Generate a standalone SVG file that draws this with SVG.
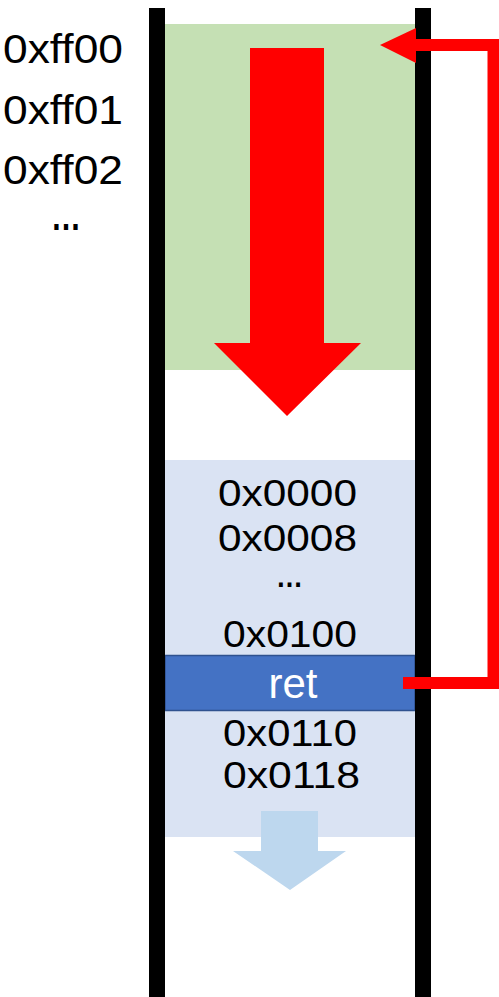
<svg xmlns="http://www.w3.org/2000/svg" width="499" height="997" viewBox="0 0 499 997">
<style>
.lbl{font-family:"Liberation Sans",Arial,sans-serif;fill:#000}
.big{font-size:40px}
.mid{font-size:37px}
.dots{font-weight:bold}
.bar{fill:#000}
</style>
<rect width="499" height="997" fill="#fff"/>
<g id="heap-region">
<rect x="165" y="24" width="250" height="346" fill="#c5e0b4"/>
</g>
<g id="heap-arrow">
<polygon points="250,48 324,48 324,343 361,343 287,416 214,343 250,343" fill="#ff0000"/>
</g>
<g id="stack-region">
<rect x="165" y="460" width="250" height="377" fill="#dae3f3"/>
</g>
<g id="stack-arrow">
<polygon points="261,811 318,811 318,851 346,851 290,890 233,851 261,851" fill="#bdd7ee"/>
</g>
<g id="ret-cell">
<rect x="165" y="655.5" width="250" height="55" fill="#4472c4" stroke="#2f528f" stroke-width="1.5"/>
<text x="293" y="698" text-anchor="middle" font-family="Liberation Sans,Arial,sans-serif" font-size="42" fill="#fff">ret</text>
</g>
<g id="bars">
<rect class="bar" x="149" y="8" width="16" height="989"/>
<rect class="bar" x="415" y="8" width="16" height="989"/>
</g>
<g id="left-labels">
<text class="lbl big" x="3" y="63" textLength="120" lengthAdjust="spacingAndGlyphs">0xff00</text>
<text class="lbl big" x="3" y="123.5" textLength="120" lengthAdjust="spacingAndGlyphs">0xff01</text>
<text class="lbl big" x="3" y="184" textLength="120" lengthAdjust="spacingAndGlyphs">0xff02</text>
<text class="lbl big dots" x="51" y="230" textLength="30" lengthAdjust="spacingAndGlyphs">…</text>
</g>
<g id="stack-labels">
<text class="lbl mid" x="218" y="506" textLength="139" lengthAdjust="spacingAndGlyphs">0x0000</text>
<text class="lbl mid" x="218" y="551" textLength="139" lengthAdjust="spacingAndGlyphs">0x0008</text>
<text class="lbl dots" font-size="30" x="276" y="587" textLength="27" lengthAdjust="spacingAndGlyphs">…</text>
<text class="lbl mid" x="223" y="647" textLength="134" lengthAdjust="spacingAndGlyphs">0x0100</text>
<text class="lbl mid" x="223" y="746" textLength="134" lengthAdjust="spacingAndGlyphs">0x0110</text>
<text class="lbl mid" x="223" y="788" textLength="137" lengthAdjust="spacingAndGlyphs">0x0118</text>
</g>
<g id="connectors">
<path d="M403 683 H493.5 V45 H414" fill="none" stroke="#ff0000" stroke-width="12" stroke-linejoin="miter"/>
<polygon points="380,45 416,28 416,63" fill="#ff0000"/>
</g>
</svg>
